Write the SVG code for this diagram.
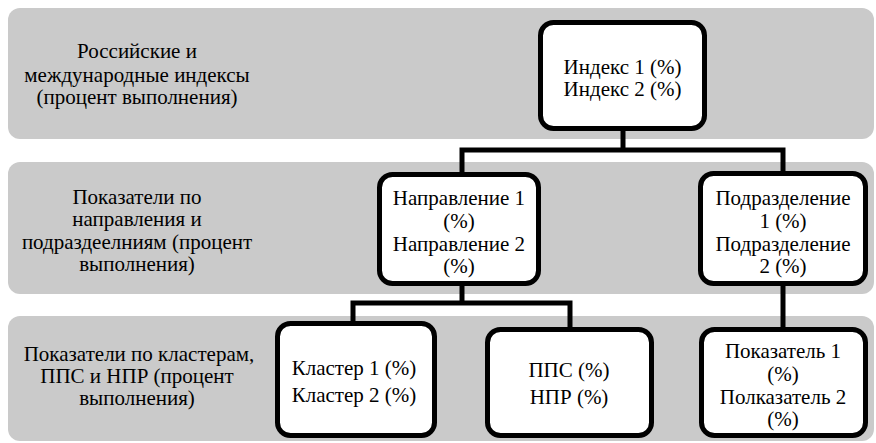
<svg xmlns="http://www.w3.org/2000/svg" width="876" height="443" viewBox="0 0 876 443">
<style>
.band{fill:#cacaca}
.box{fill:#fff;stroke:#000;stroke-width:5}
.t{font-family:"Liberation Serif","Times New Roman",serif;font-size:21px;fill:#000;text-anchor:middle}
.con{fill:none;stroke:#000;stroke-width:5;stroke-linejoin:miter}
</style>
<rect width="876" height="443" fill="#fff"/>
<g id="bands">
<rect class="band" x="8" y="8" width="866" height="131" rx="12"/>
<rect class="band" x="8" y="162" width="866" height="132" rx="12"/>
<rect class="band" x="8" y="316" width="866" height="125" rx="12"/>
</g>
<g id="labels">
<text class="t" x="137" y="58">Российские и</text>
<text class="t" x="137" y="82">международные индексы</text>
<text class="t" x="137" y="104">(процент выполнения)</text>
<text class="t" x="137" y="204">Показатели по</text>
<text class="t" x="137" y="226">направления и</text>
<text class="t" x="137" y="249">подраздеелниям (процент</text>
<text class="t" x="137" y="271">выполнения)</text>
<text class="t" x="139" y="361">Показатели по кластерам,</text>
<text class="t" x="137" y="383">ППС и НПР (процент</text>
<text class="t" x="137" y="405">выполнения)</text>
</g>
<g id="connectors">
<path class="con" d="M623,128 V150"/>
<path class="con" d="M462,174 V150 H783 V173"/>
<path class="con" d="M462,284 V303"/>
<path class="con" d="M353,323 V303 H570 V329"/>
<path class="con" d="M783,284 V331"/>
</g>
<g id="index">
<rect class="box" x="540.5" y="22.5" width="164" height="106" rx="13"/>
<text class="t" x="622.5" y="74">Индекс 1 (%)</text>
<text class="t" x="622.5" y="96">Индекс 2 (%)</text>
</g>
<g id="napr">
<rect class="box" x="379.5" y="174.5" width="159" height="109" rx="13"/>
<text class="t" x="459" y="205">Направление 1</text>
<text class="t" x="459" y="228">(%)</text>
<text class="t" x="459" y="251">Направление 2</text>
<text class="t" x="459" y="273">(%)</text>
</g>
<g id="podr">
<rect class="box" x="700.5" y="173.5" width="165" height="110" rx="13"/>
<text class="t" x="783" y="205">Подразделение</text>
<text class="t" x="783" y="228">1 (%)</text>
<text class="t" x="783" y="251">Подразделение</text>
<text class="t" x="783" y="273">2 (%)</text>
</g>
<g id="klaster">
<rect class="box" x="277.5" y="323.5" width="157" height="112" rx="13"/>
<text class="t" x="354" y="375">Кластер 1 (%)</text>
<text class="t" x="354" y="402">Кластер 2 (%)</text>
</g>
<g id="pps">
<rect class="box" x="487.5" y="329.5" width="164" height="106" rx="13"/>
<text class="t" x="569" y="377">ППС (%)</text>
<text class="t" x="569" y="404">НПР (%)</text>
</g>
<g id="pokaz">
<rect class="box" x="701.5" y="329.5" width="164" height="106" rx="13"/>
<text class="t" x="783" y="358">Показатель 1</text>
<text class="t" x="783" y="381">(%)</text>
<text class="t" x="783" y="404">Полказатель 2</text>
<text class="t" x="783" y="426">(%)</text>
</g>
</svg>
